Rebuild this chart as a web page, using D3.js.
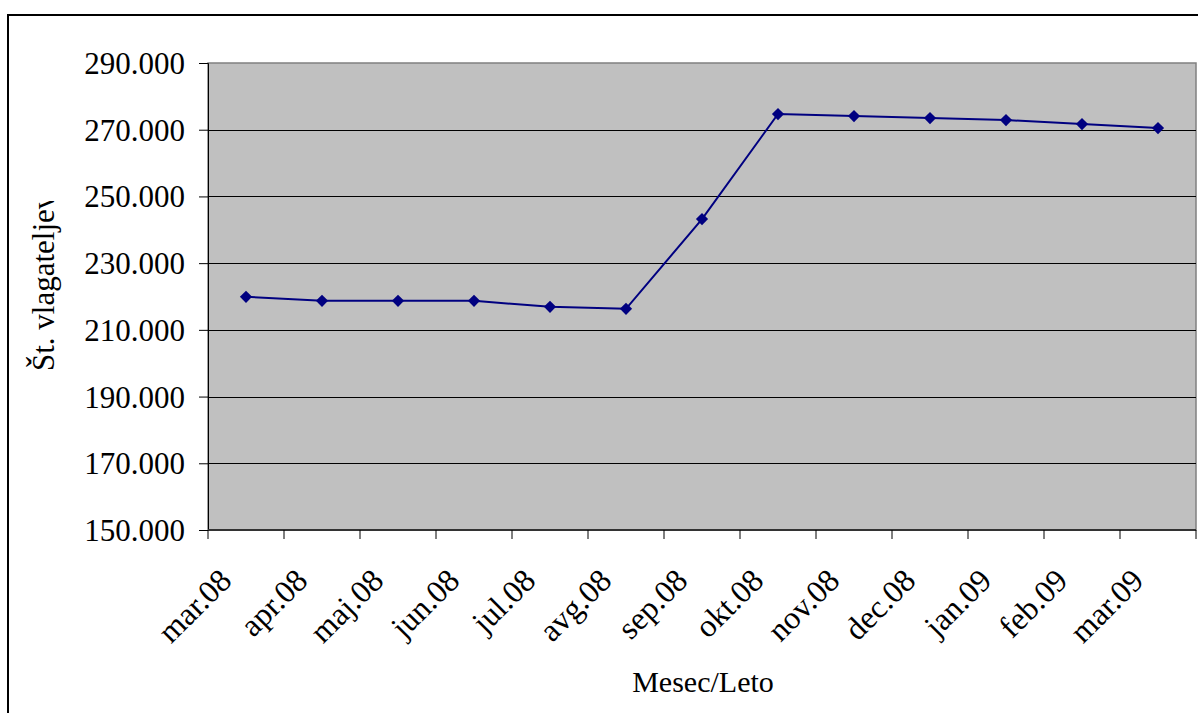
<!DOCTYPE html>
<html><head><meta charset="utf-8">
<script src="https://cdn.jsdelivr.net/npm/d3@7"></script>
<style>body{margin:0;background:#fff}svg{display:block}text{font-family:"Liberation Serif","Times New Roman",serif;fill:#000}</style>
</head><body>
<svg id="c" width="1198" height="713"></svg>
<script>
const categories = ["mar.08","apr.08","maj.08","jun.08","jul.08","avg.08","sep.08","okt.08","nov.08","dec.08","jan.09","feb.09","mar.09"];
const values = [219900,218700,218700,218700,216900,216300,243200,274700,274100,273500,272900,271700,270500];
const yTicks = [150000,170000,190000,210000,230000,250000,270000,290000];
const xTitle = "Mesec/Leto";
const yTitle = "Št. vlagateljev";

const svg = d3.select("#c");
const L = 208, R = 1196, T = 63, B = 530;
const x = d3.scaleBand().domain(categories).range([L, R]);
const y = d3.scaleLinear().domain([150000, 290000]).range([B, T]);
const fmt = v => d3.format(",.0f")(v / 1000) + ".000";

// outer border
svg.append("rect").attr("x", 8).attr("y", 15).attr("width", 1198).attr("height", 713)
  .attr("fill", "none").attr("stroke", "#000").attr("stroke-width", 2);

// plot area
svg.append("rect").attr("x", L).attr("y", T).attr("width", R - L).attr("height", B - T)
  .attr("fill", "#c0c0c0").attr("stroke", "#808080").attr("stroke-width", 1.5);

// gridlines
svg.append("g").selectAll("line").data(yTicks.filter(d => d > 150000 && d < 290000)).join("line")
  .attr("x1", L).attr("x2", R).attr("y1", d => Math.round(y(d)) + 0.5).attr("y2", d => Math.round(y(d)) + 0.5)
  .attr("stroke", "#000").attr("stroke-width", 1);

// y axis
const ya = svg.append("g").attr("transform", `translate(${L},0)`)
  .call(d3.axisLeft(y).tickValues(yTicks).tickFormat(fmt).tickSize(9).tickPadding(14));
ya.select(".domain").attr("stroke", "#000").attr("stroke-width", 1);
ya.selectAll(".tick line").attr("stroke", "#000");
ya.selectAll("text").attr("font-size", 31).attr("font-family", "Liberation Serif").attr("dy", "0.34em");

// x axis
const boundaries = categories.map(c => x(c)).concat([R]);
svg.append("line").attr("x1", L).attr("x2", R).attr("y1", B).attr("y2", B).attr("stroke", "#333").attr("stroke-width", 2);
svg.append("g").selectAll("line").data(boundaries).join("line")
  .attr("x1", d => d).attr("x2", d => d).attr("y1", B).attr("y2", B + 9).attr("stroke", "#000");
svg.append("g").selectAll("text").data(categories).join("text")
  .attr("transform", d => `translate(${x(d) + x.bandwidth() / 2},${B}) rotate(-45)`)
  .attr("x", -46).attr("y", 28)
  .attr("text-anchor", "end").attr("font-size", 32).text(d => d);

// titles
svg.append("text").attr("x", 703).attr("y", 692).attr("text-anchor", "middle").attr("font-size", 30).text(xTitle);
svg.append("clipPath").attr("id", "yc").append("rect").attr("x", 0).attr("y", 201).attr("width", 100).attr("height", 300);
svg.append("g").attr("clip-path", "url(#yc)").append("text")
  .attr("transform", "translate(54,371) rotate(-90)")
  .attr("text-anchor", "start").attr("font-size", 31).text(yTitle);

// line
const line = d3.line().x((d, i) => x(categories[i]) + x.bandwidth() / 2).y(d => y(d));
svg.append("path").datum(values).attr("d", line).attr("fill", "none").attr("stroke", "#000080").attr("stroke-width", 2);
svg.append("g").selectAll("path").data(values).join("path")
  .attr("d", d3.symbol(d3.symbolDiamond2 || d3.symbolDiamond, 95))
  .attr("transform", (d, i) => `translate(${x(categories[i]) + x.bandwidth() / 2},${y(d)})`)
  .attr("fill", "#000080");
</script>
</body></html>
